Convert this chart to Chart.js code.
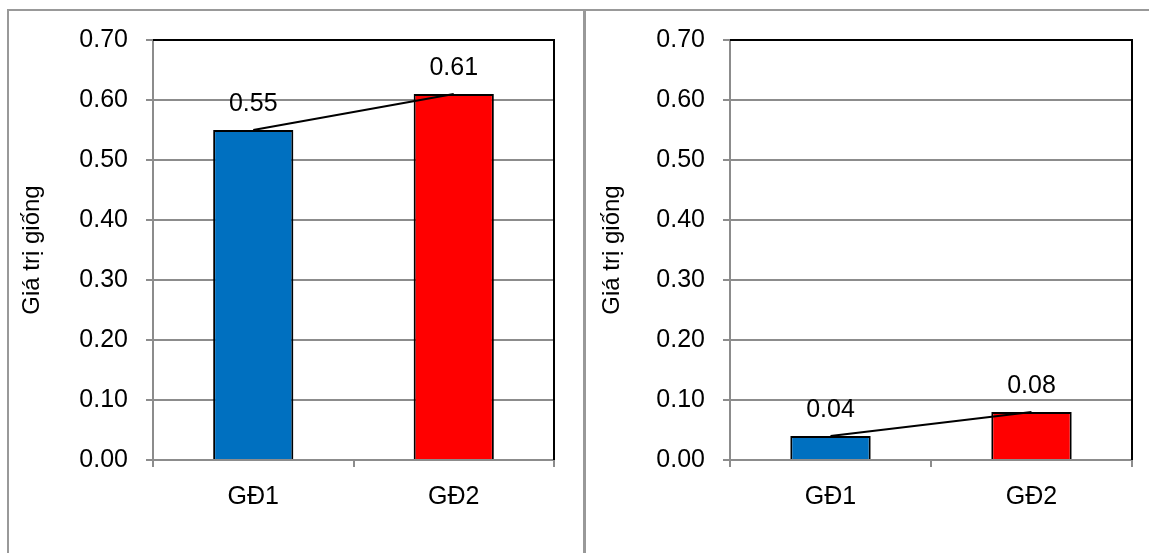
<!DOCTYPE html>
<html>
<head>
<meta charset="utf-8">
<script src="https://cdn.jsdelivr.net/npm/chart.js@4.4.1/dist/chart.umd.min.js"></script>
<style>
  html, body { margin: 0; padding: 0; background: #fff; }
  body { width: 1149px; height: 553px; position: relative; overflow: hidden; }
  .panel { position: absolute; top: 0; height: 553px; }
  .frame { position: absolute; background: #999; }
</style>
</head>
<body>
<div class="panel" style="left:0;width:580px;"><canvas id="c1" width="580" height="553"></canvas></div>
<div class="panel" style="left:577px;width:572px;"><canvas id="c2" width="572" height="553"></canvas></div>
<div class="frame" style="left:7px;top:9px;width:2px;height:544px;"></div>
<div class="frame" style="left:7px;top:9px;width:1142px;height:2px;"></div>
<div class="frame" style="left:583px;top:9px;width:3px;height:544px;"></div>
<script>
// Breeding value per stage, two traits
const categories = ['GĐ1', 'GĐ2'];
const valuesLeft = [0.55, 0.61];
const valuesRight = [0.04, 0.08];
const barColors = ['#0070C0', '#FF0000'];
const yTitle = 'Giá trị giống';
const yMin = 0, yMax = 0.7, yStep = 0.1;

const FONT = "'Liberation Sans', Arial, sans-serif";
const GRID = '#8c8c8c';

// Black frame on top and right of the plot area, plus value labels above bars
const plotExtras = {
  id: 'plotExtras',
  afterDatasetsDraw(chart) {
    const { ctx, chartArea: a } = chart;
    ctx.save();
    ctx.strokeStyle = '#000';
    ctx.lineWidth = 2;
    ctx.beginPath();
    ctx.moveTo(a.left, a.top);
    ctx.lineTo(a.right, a.top);
    ctx.lineTo(a.right, a.bottom);
    ctx.stroke();

    const meta = chart.getDatasetMeta(0);
    const data = chart.data.datasets[0].data;
    ctx.fillStyle = '#000';
    ctx.font = '25px ' + FONT;
    ctx.textAlign = 'center';
    ctx.textBaseline = 'middle';
    meta.data.forEach((bar, i) => {
      ctx.fillText(data[i].toFixed(2), bar.x, bar.y - 26);
    });
    ctx.restore();
  }
};

function makeChart(id, values, padLeft, padRight) {
  const axisWidth = 153 - padLeft;
  return new Chart(document.getElementById(id), {
    data: {
      labels: categories,
      datasets: [
        {
          type: 'bar',
          data: values,
          backgroundColor: barColors,
          borderColor: '#000',
          borderWidth: 2,
          categoryPercentage: 1,
          barPercentage: 0.4,
          order: 2
        },
        {
          type: 'line',
          data: values,
          borderColor: '#000',
          borderWidth: 2,
          pointRadius: 0,
          tension: 0,
          order: 1
        }
      ]
    },
    options: {
      responsive: false,
      animation: false,
      events: [],
      layout: { padding: { left: padLeft, top: 40, right: padRight, bottom: 0 } },
      plugins: { legend: { display: false }, tooltip: { enabled: false } },
      scales: {
        x: {
          offset: true,
          grid: {
            offset: true,
            drawOnChartArea: false,
            drawTicks: true,
            tickLength: 7,
            color: GRID,
            lineWidth: 2
          },
          border: { display: true, color: GRID, width: 2 },
          ticks: { color: '#000', font: { family: FONT, size: 25 }, padding: 15 },
          afterFit(scale) { scale.height = 93; }
        },
        y: {
          min: yMin,
          max: yMax,
          ticks: {
            stepSize: yStep,
            color: '#000',
            font: { family: FONT, size: 25 },
            padding: 18,
            callback: v => Number(v).toFixed(2)
          },
          grid: {
            color: c => (c.tick && Math.abs(c.tick.value - yMax) < 1e-9) ? '#000' : GRID,
            tickColor: GRID,
            lineWidth: 2,
            tickLength: 7
          },
          border: { display: true, color: GRID, width: 2 },
          title: {
            display: true,
            text: yTitle,
            color: '#000',
            font: { family: FONT, size: 24 },
            padding: { top: 10, bottom: 0 }
          },
          afterFit(scale) { scale.width = axisWidth; }
        }
      }
    },
    plugins: [plotExtras]
  });
}

makeChart('c1', valuesLeft, 8, 26);
makeChart('c2', valuesRight, 11, 17);
</script>
</body>
</html>
